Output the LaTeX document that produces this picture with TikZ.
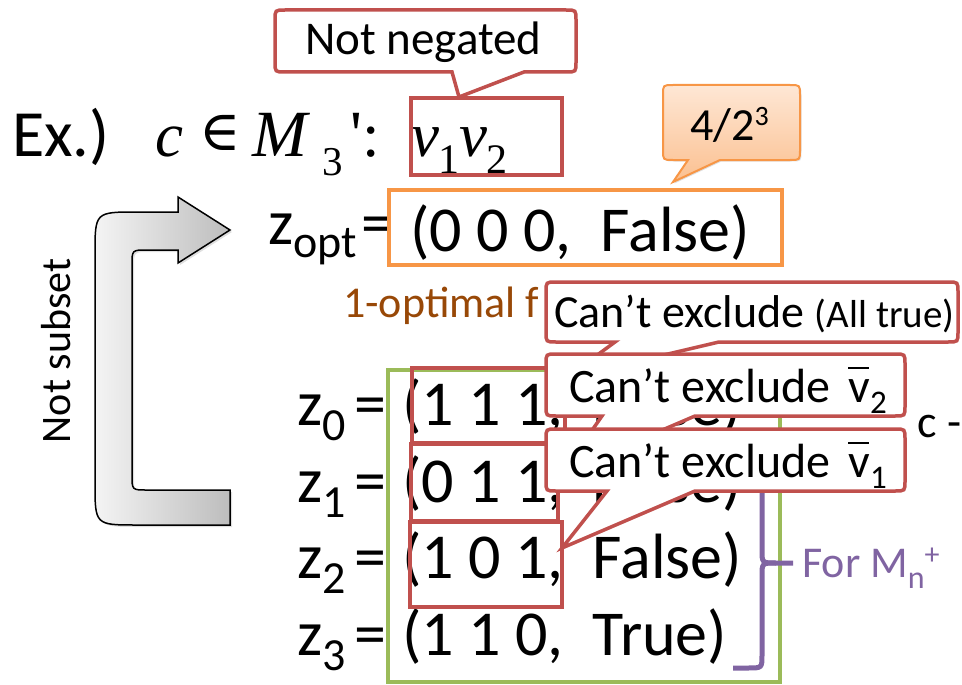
\documentclass[tikz,border=0pt]{standalone}
\usepackage{fontspec}
\setmainfont{Carlito}
\newfontfamily\tnr{Liberation Serif}
\newfontfamily\tnrq[Ligatures=TeXOff]{Liberation Serif}
\newfontfamily\djs{DejaVu Serif}
\usetikzlibrary{shadows}
\definecolor{cred}{HTML}{C0504D}
\definecolor{corange}{HTML}{F79646}
\definecolor{cgreen}{HTML}{9BBB59}
\definecolor{cpurple}{HTML}{8064A2}
\definecolor{cbrown}{HTML}{984807}
\definecolor{peachA}{HTML}{FEE7D5}
\definecolor{peachB}{HTML}{FBC090}
\definecolor{grayA}{HTML}{F4F4F4}
\definecolor{grayB}{HTML}{BDBDBD}
\newcommand\fs[1]{\fontsize{#1}{#1}\selectfont}
\newcommand\lowsub[3]{\raisebox{-#2pt}{\fs{#1}#3}}
\newcommand\ovl[1]{\rlap{\rule[0.68em]{0.42em}{0.05em}}#1}
% bubble: #1 style, #2 x1, #3 y1, #4 x2, #5 y2, #6 base left x, #7 base right x, #8 tip x, #9 tip y
\newcommand\bubble[9]{%
  \path[#1] ({#2+10},#3) -- ({#4-10},#3) .. controls (#4,#3) .. (#4,{#3+10})
    -- (#4,{#5-10}) .. controls (#4,#5) .. ({#4-10},#5) -- (#7,#5) -- (#8,#9)
    -- (#6,#5) -- ({#2+10},#5) .. controls (#2,#5) .. (#2,{#5-10})
    -- (#2,{#3+10}) .. controls (#2,#3) .. ({#2+10},#3) -- cycle;}
\begin{document}
\begin{tikzpicture}[x=1pt,y=-1pt,
  txt/.style={inner sep=0pt, anchor=base west},
  redline/.style={draw=cred, line width=4pt},
  redbubble/.style={fill=white, draw=cred, line width=3.5pt, line join=miter},
  orbubble/.style={top color=peachA, bottom color=peachB, draw=corange, line width=2pt,
     drop shadow={opacity=0.25, shadow xshift=1.5pt, shadow yshift=-1.5pt}},
  uarrow/.style={left color=grayA, right color=grayB, draw=black, line width=1.5pt,
     drop shadow={opacity=0.25, shadow xshift=2pt, shadow yshift=-2pt}},
  bracestyle/.style={draw=cpurple, line width=5pt}]
\useasboundingbox (0,0) rectangle (962,685);
\clip (0,0) rectangle (962,685);

% ---- title line ----
\node[txt,font=\fs{66}] (ex) at (12,157) {Ex.)};
\node[txt,font=\tnr\fs{63}\itshape] (mc) at (155,157) {c};
\node[txt,font=\djs\fs{56}] (min) at (199,150) {∈};
\node[txt,font=\tnr\fs{66}\itshape] (mM) at (252,157) {M};
\node[txt,font=\tnr\fs{41}] (m3) at (322,175) {3};
\node[txt,font=\tnrq\fs{66}] (mprime) at (350,157) {'};
\node[txt,font=\tnr\fs{63}] (mcolon) at (362,157) {:};
\node[txt,font=\tnr\fs{63}\itshape] (v1) at (411,157) {v};
\node[txt,font=\tnr\fs{42}] (s1) at (438,173) {1};
\node[txt,font=\tnr\fs{63}\itshape] (v2) at (459,157) {v};
\node[txt,font=\tnr\fs{42}] (s2) at (486,173) {2};
\draw[redline] (411,98) rectangle (562,175);

% Not negated callout
\bubble{redbubble}{275}{10}{576}{72}{452}{524}{459}{97}
\node[txt,font=\fs{47}] (notneg) at (305,55) {Not negated};

% 4/2^3 callout
\bubble{orbubble}{663}{85}{800}{160}{688}{720}{673}{182}
\node[txt,font=\fs{46}] (frac) at (690,140) {4/2\raisebox{15pt}{\fs{28}3}};

% ---- z_opt ----
\node[txt,font=\fs{64}] (zopt) at (268,244) {z\lowsub{46}{13}{opt}};
\node[txt,font=\fs{64}] (eqopt) at (361,244) {=};
\draw[draw=corange, line width=4pt] (389,190) rectangle (782,265);
\node[txt,font=\fs{64}] (topt) at (410,251) {(0 0 0,~~False)};
\node[txt,font=\fs{44},text=cbrown] (onopt) at (343,317) {1-optimal f};

% ---- U arrow ----
\path[uarrow] (230,230) -- (178,263) -- (178,250) -- (147,250) .. controls (132,250) .. (132,265)
  -- (132,475) .. controls (132,490) .. (147,490) -- (230,490) -- (230,525) -- (137,525)
  .. controls (95,525) .. (95,483) -- (95,254) .. controls (95,212) .. (137,212)
  -- (178,212) -- (178,197) -- cycle;
\node[inner sep=0pt, anchor=base, rotate=90, font=\fs{42}] (notsub) at (70,351) {Not subset};

% ---- rows ----
\draw[draw=cgreen, line width=4pt] (388,370) rectangle (780,682);
\node[txt,font=\fs{64}] (z0) at (297,425) {z\lowsub{46}{15}{0}};
\node[txt,font=\fs{64}] (eq0) at (354,425) {=};
\node[txt,font=\fs{64}] (t0) at (402,425) {(1 1 1,~~False)};
\node[txt,font=\fs{64}] (z1) at (297,502) {z\lowsub{46}{15}{1}};
\node[txt,font=\fs{64}] (eq1) at (354,502) {=};
\node[txt,font=\fs{64}] (t1) at (402,502) {(0 1 1,~~False)};
\node[txt,font=\fs{64}] (z2) at (297,578) {z\lowsub{46}{15}{2}};
\node[txt,font=\fs{64}] (eq2) at (354,578) {=};
\node[txt,font=\fs{64}] (t2) at (402,578) {(1 0 1,~~False)};
\node[txt,font=\fs{64}] (z3) at (297,655) {z\lowsub{46}{15}{3}};
\node[txt,font=\fs{64}] (eq3) at (354,655) {=};
\node[txt,font=\fs{64}] (t3) at (402,655) {(1 1 0,~~True)};

\draw[redline] (412,368) rectangle (565,443);
\draw[redline] (411,444) rectangle (558,521);
\draw[redline] (410,522) rectangle (562,607);

\node[txt,font=\fs{46}] (cdash) at (917,437) {c -};

% brace
\draw[bracestyle]
  (735,476) .. controls (762,476) .. (762,492) -- (762,550) .. controls (762,563) .. (776,563)
  -- (793,563);
\draw[bracestyle]
  (776,563) .. controls (762,563) .. (762,576) -- (762,655) .. controls (762,668) .. (748,668)
  -- (733,668);
\node[txt,font=\fs{44},text=cpurple] (form) at (802,577)
  {For M\lowsub{32}{11}{n}\raisebox{13pt}{\fs{30}+}};

% ---- callouts ----
\bubble{redbubble}{546}{282}{958}{342}{615}{719}{566}{378}
\node[txt,font=\fs{46}] (cA) at (554,327) {Can’t exclude {\fs{39}(All true)}};
\bubble{redbubble}{546}{354}{905}{416}{602}{695}{562}{473}
\node[txt,font=\fs{48}] (cB) at (569,402) {Can’t exclude\hspace{18pt}\ovl{v}\lowsub{33}{11}{2}};
\bubble{redbubble}{546}{429}{905}{491}{607}{695}{562}{548}
\node[txt,font=\fs{48}] (cC) at (569,477) {Can’t exclude\hspace{18pt}\ovl{v}\lowsub{33}{11}{1}};
\end{tikzpicture}
\end{document}
